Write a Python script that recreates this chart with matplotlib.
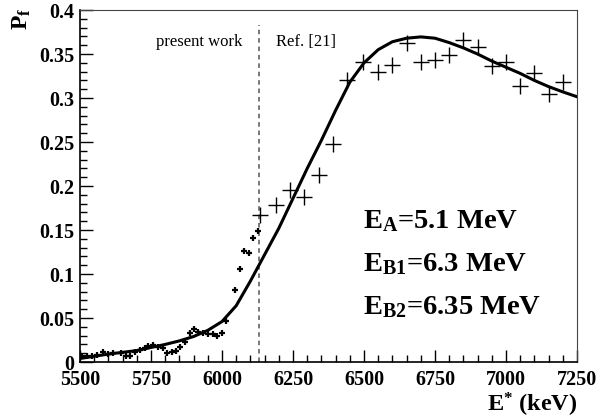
import numpy as np
import matplotlib
matplotlib.use("Agg")
import matplotlib.pyplot as plt
from matplotlib.ticker import MultipleLocator

plt.rcParams['font.family'] = ['Liberation Serif', 'DejaVu Serif']
plt.rcParams['mathtext.fontset'] = 'custom'
plt.rcParams['mathtext.rm'] = 'Liberation Serif:bold'
plt.rcParams['mathtext.it'] = 'Liberation Serif:bold'
plt.rcParams['mathtext.bf'] = 'Liberation Serif:bold'

# present work (small points)
e_present = [5506, 5523, 5541, 5559, 5582, 5600, 5615, 5643, 5662, 5676, 5694, 5711,
             5729, 5741, 5758, 5776, 5793, 5805, 5823, 5838, 5852, 5870, 5887, 5901,
             5917, 5934, 5952, 5967, 5981, 5999, 6014, 6046, 6063, 6077, 6095, 6110, 6125]
p_present = [0.0068, 0.0068, 0.0068, 0.008, 0.011, 0.009, 0.0106, 0.0106, 0.0068, 0.0068,
             0.011, 0.0136, 0.0155, 0.018, 0.019, 0.0174, 0.016, 0.0098, 0.0117, 0.0125,
             0.0174, 0.023, 0.033, 0.038, 0.034, 0.033, 0.032, 0.032, 0.0295, 0.033,
             0.0466, 0.0818, 0.1057, 0.1265, 0.124, 0.1405, 0.149]

# Ref. [21] (large crosses)
e_ref = [6135, 6190, 6240, 6290, 6340, 6390, 6440, 6495, 6550, 6600, 6650, 6700,
         6750, 6800, 6850, 6900, 6950, 7000, 7050, 7100, 7150, 7200]
p_ref = [0.167, 0.178, 0.195, 0.187, 0.212, 0.248, 0.320, 0.341, 0.330, 0.338, 0.362,
         0.341, 0.343, 0.349, 0.366, 0.358, 0.336, 0.341, 0.314, 0.328, 0.305, 0.318]

# calculated curve
e_fit = [5500, 5600, 5700, 5750, 5800, 5850, 5900, 5950, 6000, 6050, 6100, 6150,
         6200, 6250, 6300, 6350, 6400, 6450, 6500, 6550, 6600, 6650, 6700, 6750,
         6800, 6850, 6900, 6950, 7000, 7050, 7100, 7150, 7200, 7250]
p_fit = [0.004, 0.009, 0.013, 0.0165, 0.020, 0.024, 0.029, 0.036, 0.046, 0.064, 0.092,
         0.122, 0.152, 0.186, 0.220, 0.252, 0.286, 0.318, 0.340, 0.355, 0.364, 0.368,
         0.3695, 0.368, 0.363, 0.357, 0.350, 0.342, 0.335, 0.328, 0.320, 0.313, 0.307,
         0.3015]

e_split = 6130

fig = plt.figure(figsize=(6.07, 4.19), dpi=100)
ax = fig.add_axes([0.1318, 0.136, 0.8188, 0.840])

ax.plot(e_fit, p_fit, color='black', lw=2.2, zorder=3)
ax.plot(e_ref, p_ref, ls='none', marker='+', ms=11, mew=1.0, color='black', zorder=4)
ax.plot(e_present, p_present, ls='none', marker='+', ms=4.5, mew=1.6, color='black', zorder=4)
ax.plot([e_split, e_split], [0, 0.383], color='#555555', ls=(0, (3, 2.5)), lw=1.1, zorder=2)

ax.set_xlim(5500, 7250)
ax.set_ylim(0, 0.4)
ax.xaxis.set_major_locator(MultipleLocator(250))
ax.xaxis.set_minor_locator(MultipleLocator(50))
ax.yaxis.set_minor_locator(MultipleLocator(0.01))
ax.set_yticks([0, 0.05, 0.1, 0.15, 0.2, 0.25, 0.3, 0.35, 0.4])
ax.set_yticklabels(['0', '0.05', '0.1', '0.15', '0.2', '0.25', '0.3', '0.35', '0.4'])
ax.tick_params(which='major', direction='in', length=9, width=1, labelsize=14.5)
ax.tick_params(axis='x', pad=6)
ax.tick_params(axis='y', pad=4)
ax.tick_params(which='minor', direction='in', length=5, width=1)
ax.tick_params(top=False, right=False)
for lab in ax.get_xticklabels() + ax.get_yticklabels():
    lab.set_fontweight('bold')
for s in ['top', 'right']:
    ax.spines[s].set_linewidth(0.8)
    ax.spines[s].set_color('#444444')
for s in ['left', 'bottom']:
    ax.spines[s].set_linewidth(1.2)

ax.text(6070, 0.364, 'present work', ha='right', va='center', fontsize=12)
ax.text(6190, 0.364, 'Ref. [21]', ha='left', va='center', fontsize=12)

ax.text(6496, 0.160, r'$\mathbf{E_{A}}$=5.1 MeV', fontsize=20.5, fontweight='bold', ha='left', va='center')
ax.text(6496, 0.111, r'$\mathbf{E_{B1}}$=6.3 MeV', fontsize=20.5, fontweight='bold', ha='left', va='center')
ax.text(6496, 0.062, r'$\mathbf{E_{B2}}$=6.35 MeV', fontsize=20.5, fontweight='bold', ha='left', va='center')

fig.text(0.036, 0.955, r'$\mathbf{P_{f}}$', rotation=90, fontsize=17, ha='center', va='center')
fig.text(0.951, 0.033, r'$\mathbf{E^{*}}$ (keV)', fontsize=17.5, fontweight='bold', ha='right', va='center')

fig.savefig('out.png', dpi=100)
